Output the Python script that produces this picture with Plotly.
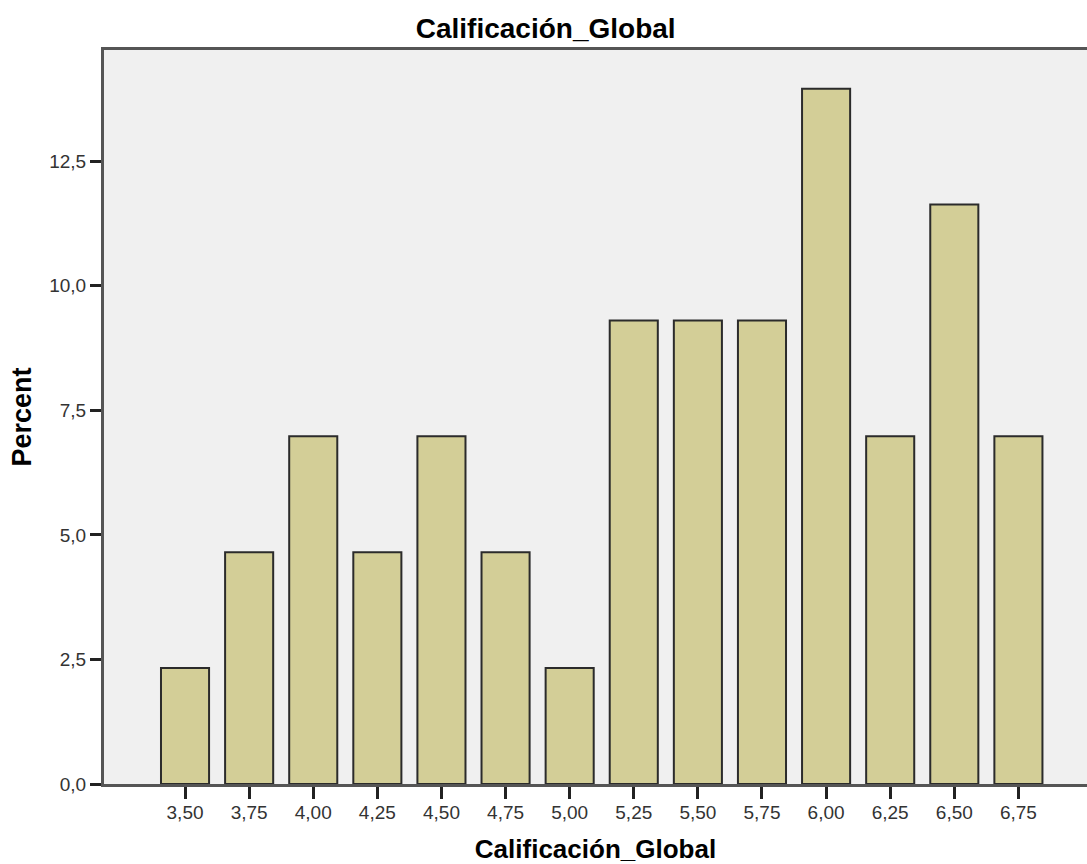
import plotly.graph_objects as go

categories = ["3,50", "3,75", "4,00", "4,25", "4,50", "4,75", "5,00",
              "5,25", "5,50", "5,75", "6,00", "6,25", "6,50", "6,75"]
percent = [2.33, 4.65, 6.98, 4.65, 6.98, 4.65, 2.33,
           9.30, 9.30, 9.30, 13.95, 6.98, 11.63, 6.98]
y_tickvals = [0, 2.5, 5, 7.5, 10, 12.5]
y_ticktext = ["0,0", "2,5", "5,0", "7,5", "10,0", "12,5"]

fig = go.Figure(go.Bar(
    x=categories, y=percent,
    marker=dict(color="#d3ce97", line=dict(color="#2b2b2b", width=2)),
    width=0.75,
))

font_family = "Liberation Sans, Arial, sans-serif"
fig.update_layout(
    width=1087, height=864,
    margin=dict(l=104, r=0, t=50, b=80),
    paper_bgcolor="white", plot_bgcolor="#f0f0f0",
    showlegend=False,
    title=dict(text="<b>Calificación_Global</b>", x=0.502, xanchor="center",
               y=1 - 28/864, yanchor="middle",
               font=dict(family=font_family, size=28, color="black")),
    font=dict(family=font_family, color="#222"),
)
fig.update_xaxes(
    type="category", range=[-1.264, 14.07],
    showline=True, linecolor="#555", linewidth=3, mirror=True,
    ticks="outside", ticklen=12, tickwidth=2.5, tickcolor="#222",
    tickfont=dict(size=19, color="#333"),
    ticklabelstandoff=-3,
    showgrid=False,
    title=dict(text="<b>Calificación_Global</b>", standoff=20,
               font=dict(size=26, color="black")),
)
fig.update_yaxes(
    range=[0, 14.73],
    tickvals=y_tickvals, ticktext=y_ticktext,
    showline=True, linecolor="#555", linewidth=3,
    ticks="outside", ticklen=11, tickwidth=2.5, tickcolor="#222",
    tickfont=dict(size=19, color="#333"),
    showgrid=False, zeroline=False,
    title=dict(text="<b>Percent</b>", standoff=10,
               font=dict(size=27, color="black")),
)

fig.write_html("out.html", config={"displayModeBar": False},
               post_script="document.body.style.margin='0';")
